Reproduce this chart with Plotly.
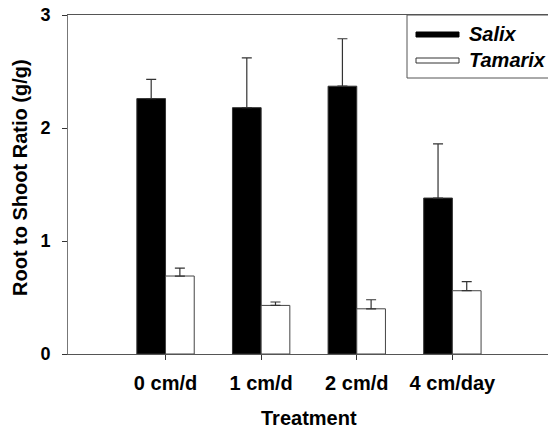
import plotly.graph_objects as go

categories = ["0 cm/d", "1 cm/d", "2 cm/d", "4 cm/day"]
series_names = ["Salix", "Tamarix"]
salix = [2.26, 2.18, 2.37, 1.38]
salix_err = [0.17, 0.44, 0.42, 0.48]
tamarix = [0.69, 0.43, 0.40, 0.56]
tamarix_err = [0.07, 0.03, 0.08, 0.08]
y_ticks = [0, 1, 2, 3]

W, H = 548, 431
L, R, T, B = 68, 0, 15, 77
pw, ph = W - L - R, H - T - B

def px_x(x):
    return (x - L) / pw

def px_y(y):
    return (H - B - y) / ph

FONT = "Liberation Sans, Arial, sans-serif"
xpos = list(range(len(categories)))

fig = go.Figure()
fig.add_trace(go.Bar(
    x=xpos, y=salix, name=series_names[0], width=0.3, offset=-0.3,
    marker=dict(color="black", line=dict(color="#333", width=1)),
    error_y=dict(type="data", symmetric=False, array=salix_err,
                 arrayminus=[0] * len(salix), color="#333", thickness=1.2, width=5),
    showlegend=False,
))
fig.add_trace(go.Bar(
    x=xpos, y=tamarix, name=series_names[1], width=0.3, offset=0,
    marker=dict(color="white", line=dict(color="#444", width=1)),
    error_y=dict(type="data", symmetric=False, array=tamarix_err,
                 arrayminus=[0] * len(tamarix), color="#333", thickness=1.2, width=5),
    showlegend=False,
))

# Legend (drawn manually to mimic the wide swatches)
shapes = [
    dict(type="rect", xref="paper", yref="paper",
         x0=px_x(407), x1=px_x(552), y0=px_y(78), y1=px_y(15),
         line=dict(color="#555", width=1), fillcolor="white", layer="above"),
    dict(type="rect", xref="paper", yref="paper",
         x0=px_x(416), x1=px_x(459), y0=px_y(37), y1=px_y(32),
         line=dict(color="black", width=1), fillcolor="black", layer="above"),
    dict(type="rect", xref="paper", yref="paper",
         x0=px_x(416), x1=px_x(459), y0=px_y(63), y1=px_y(58),
         line=dict(color="#333", width=1), fillcolor="white", layer="above"),
]
annotations = [
    dict(text="<i>" + series_names[0] + "</i>", xref="paper", yref="paper",
         x=px_x(467), y=px_y(34.5), xanchor="left", yanchor="middle", showarrow=False,
         font=dict(family=FONT, size=20, color="black", weight="bold")),
    dict(text="<i>" + series_names[1] + "</i>", xref="paper", yref="paper",
         x=px_x(467), y=px_y(60.5), xanchor="left", yanchor="middle", showarrow=False,
         font=dict(family=FONT, size=20, color="black", weight="bold")),
    dict(text="Treatment", xref="paper", yref="paper",
         x=px_x(309), y=px_y(418), xanchor="center", yanchor="middle", showarrow=False,
         font=dict(family=FONT, size=20, color="black", weight="bold")),
    dict(text="Root to Shoot Ratio (g/g)", xref="paper", yref="paper",
         x=px_x(20), y=px_y(178), xanchor="center", yanchor="middle", showarrow=False,
         textangle=-90,
         font=dict(family=FONT, size=20, color="black", weight="bold")),
]

fig.update_layout(
    width=W, height=H,
    margin=dict(l=L, r=R, t=T, b=B, pad=0),
    paper_bgcolor="white", plot_bgcolor="white",
    shapes=shapes, annotations=annotations,
    showlegend=False,
    font=dict(family=FONT, color="black"),
)
fig.update_xaxes(
    range=[-1.02, 4.0], tickmode="array", tickvals=xpos, ticktext=categories,
    showline=True, linecolor="#555", linewidth=1, mirror=True,
    ticks="outside", ticklen=5, tickcolor="#333", tickwidth=1,
    showgrid=False, zeroline=False, ticklabelstandoff=6,
    tickfont=dict(family=FONT, size=20, color="black", weight="bold"),
)
fig.update_yaxes(
    range=[0, 3], tickmode="array", tickvals=y_ticks,
    showline=True, linecolor="#777", linewidth=1,
    ticks="outside", ticklen=5, tickcolor="#333", tickwidth=1,
    showgrid=False, zeroline=False, ticklabelstandoff=8,
    tickfont=dict(family=FONT, size=18, color="black", weight="bold"),
)

fig.write_html(
    "out.html",
    config={"displayModeBar": False},
    post_script="document.body.style.margin='0';document.body.style.overflow='hidden';",
)
